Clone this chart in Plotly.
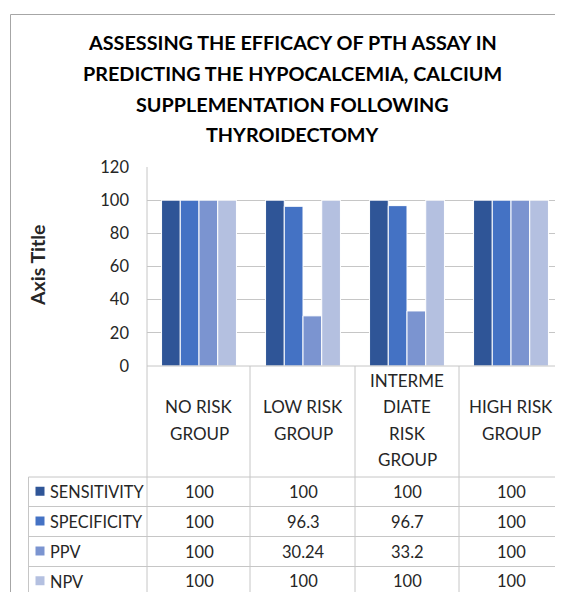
import plotly.graph_objects as go

# ---------------- data ----------------
TITLE_LINES = [
    "ASSESSING THE EFFICACY OF PTH ASSAY IN",
    "PREDICTING THE HYPOCALCEMIA, CALCIUM",
    "SUPPLEMENTATION FOLLOWING",
    "THYROIDECTOMY",
]
CATEGORIES = ["NO RISK GROUP", "LOW RISK GROUP", "INTERMEDIATE RISK GROUP", "HIGH RISK GROUP"]
CATEGORY_LINES = [
    ["NO RISK", "GROUP"],
    ["LOW RISK", "GROUP"],
    ["INTERME", "DIATE", "RISK", "GROUP"],
    ["HIGH RISK", "GROUP"],
]
SERIES_NAMES = ["SENSITIVITY", "SPECIFICITY", "PPV", "NPV"]
SENSITIVITY = [100, 100, 100, 100]
SPECIFICITY = [100, 96.3, 96.7, 100]
PPV = [100, 30.24, 33.2, 100]
NPV = [100, 100, 100, 100]
SERIES_VALUES = [SENSITIVITY, SPECIFICITY, PPV, NPV]
Y_TICKS = [0, 20, 40, 60, 80, 100, 120]
Y_AXIS_TITLE = "Axis Title"

# ---------------- style ----------------
COLORS = ["#2F5597", "#4472C4", "#7B94D0", "#B4C0E0"]
FONT = "Lato, 'Open Sans', sans-serif"
GRID = "#C6C6C6"
BORDER = "#A6A6A6"
OFF = 8  # page body margin
W, H = 563 - OFF, 592 - OFF
# plot area in window pixels
PL, PT, PR, PB = 147, 167, 563, 366
L, T = PL - OFF, PT - OFF
R, B = W - (PR - OFF), H - (PB - OFF)
PW, PH = W - L - R, H - T - B


def px(xp):
    return (xp - PL) / PW


def py(yp):
    return (PB - yp) / PH


fig = go.Figure()
for name, vals, col in zip(SERIES_NAMES, SERIES_VALUES, COLORS):
    fig.add_trace(go.Bar(
        x=CATEGORIES, y=vals, name=name,
        marker=dict(color=col, line=dict(color="white", width=1)),
        showlegend=False,
    ))

shapes = []
annotations = []


def hline(y, x0, x1, color=GRID, w=1):
    shapes.append(dict(type="line", xref="paper", yref="paper",
                       x0=px(x0), x1=px(x1), y0=py(y), y1=py(y),
                       line=dict(color=color, width=w)))


def vline(x, y0, y1, color=GRID, w=1):
    shapes.append(dict(type="line", xref="paper", yref="paper",
                       x0=px(x), x1=px(x), y0=py(y0), y1=py(y1),
                       line=dict(color=color, width=w)))


# outer chart border
hline(14.5, 10.5, 575, BORDER)
vline(10.5, 14.5, 600, BORDER)

# data table grid
col_edges = [147, 250, 355, 459, 562.5]
row_edges = [366, 477, 506.5, 536.5, 566.5, 596]
vline(147, 167, 600)
for xe in col_edges[1:]:
    vline(xe, 366, 600)
vline(28.5, 477, 600)
hline(366, 147, 570)
for ye in row_edges[2:-1]:
    hline(ye, 28.5, 570)
hline(477, 28.5, 570)

# category header labels
nc = len(CATEGORIES)
hdr_center = 420
for i, lines in enumerate(CATEGORY_LINES):
    n = len(lines)
    for j, txt in enumerate(lines):
        yc = hdr_center + (j - (n - 1) / 2) * 26.5
        annotations.append(dict(
            x=i, xref="x", y=py(yc), yref="paper", text=txt, showarrow=False,
            xanchor="center", yanchor="middle",
            font=dict(family=FONT, size=17, color="#262626")))

# table rows (legend key + values)
for r, (name, vals, col) in enumerate(zip(SERIES_NAMES, SERIES_VALUES, COLORS)):
    yc = (row_edges[r + 1] + row_edges[r + 2]) / 2
    shapes.append(dict(type="rect", xref="paper", yref="paper",
                       x0=px(35.5), x1=px(44.5), y0=py(yc - 5), y1=py(yc + 4),
                       fillcolor=col, line=dict(width=0)))
    annotations.append(dict(
        x=px(48), xref="paper", y=py(yc), yref="paper", text=name, showarrow=False,
        xanchor="left", yanchor="middle",
        font=dict(family=FONT, size=16.3, color="#262626")))
    for i, v in enumerate(vals):
        annotations.append(dict(
            x=i, xref="x", y=py(yc), yref="paper", text=f"{v:g}", showarrow=False,
            xanchor="center", yanchor="middle",
            font=dict(family=FONT, size=16.5, color="#262626")))

# title
for k, (line, yc) in enumerate(zip(TITLE_LINES, [42, 73, 104, 134])):
    annotations.append(dict(
        x=px(292), xref="paper", y=py(yc), yref="paper", text=f"<b>{line}</b>",
        showarrow=False, xanchor="center", yanchor="middle",
        font=dict(family=FONT, size=19.8, color="#000000")))

# y axis title
annotations.append(dict(
    x=px(37), xref="paper", y=py(266), yref="paper", text=f"<b>{Y_AXIS_TITLE}</b>",
    showarrow=False, textangle=-90, xanchor="center", yanchor="middle",
    font=dict(family=FONT, size=19.5, color="#262626")))

fig.update_layout(
    width=W, height=H,
    margin=dict(l=L, r=R, t=T, b=B, pad=0),
    paper_bgcolor="white", plot_bgcolor="white",
    barmode="group", bargap=0.28, bargroupgap=0,
    showlegend=False,
    shapes=shapes, annotations=annotations,
    xaxis=dict(type="category", range=[-0.5, nc - 0.5], showticklabels=False,
               showgrid=False, zeroline=False, showline=False, ticks=""),
    yaxis=dict(range=[0, 120], tickvals=Y_TICKS, showgrid=True, gridcolor=GRID,
               gridwidth=1, zeroline=False, showline=False, ticks="",
               ticklabelstandoff=17,
               tickfont=dict(family=FONT, size=16.5, color="#262626")),
)

fig.write_html("out.html")
